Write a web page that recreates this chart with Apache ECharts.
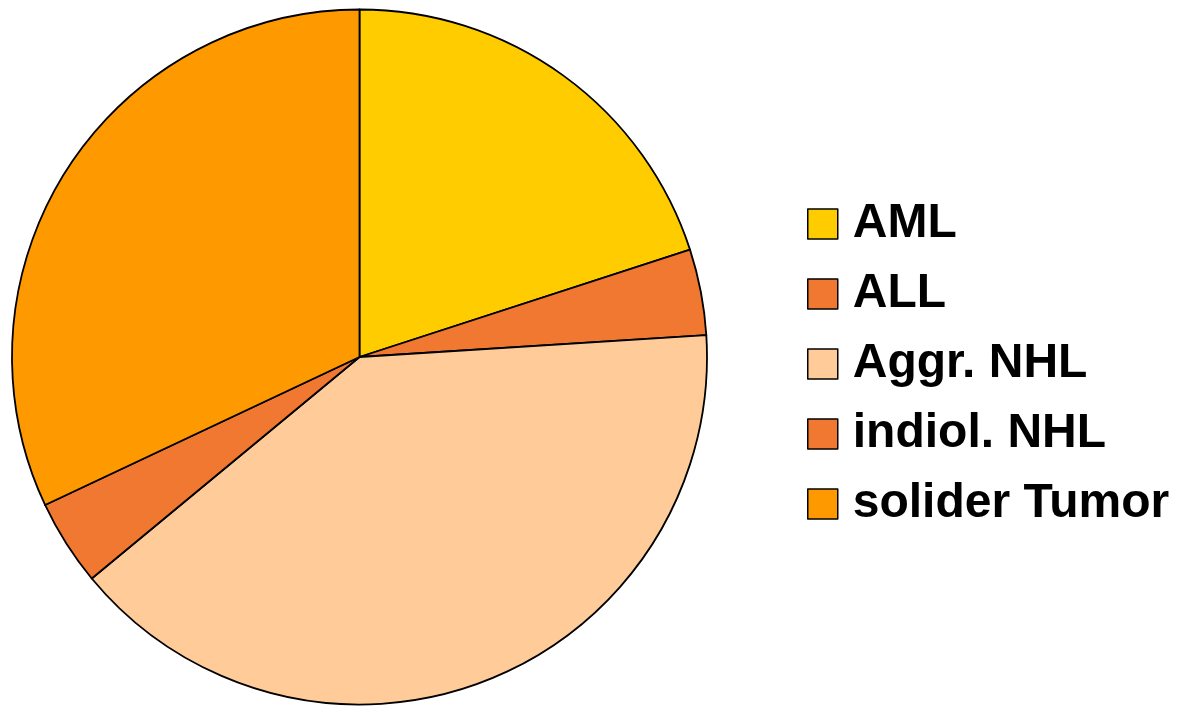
<!DOCTYPE html>
<html>
<head>
<meta charset="utf-8">
<script src="https://cdn.jsdelivr.net/npm/echarts@6/dist/echarts.min.js"></script>
<style>
  html, body { margin: 0; padding: 0; background: #fff; }
  #chart { width: 1179px; height: 706px; }
</style>
</head>
<body>
<div id="chart"></div>
<script>
// Diagnoses and their share of cases (%)
const categories = ['AML', 'ALL', 'Aggr. NHL', 'indiol. NHL', 'solider Tumor'];
const shares = [20, 4, 40, 4, 32];
const colors = ['#FFCC00', '#F07830', '#FFCC99', '#F07830', '#FF9900'];

const chart = echarts.init(document.getElementById('chart'), null, { renderer: 'canvas' });

chart.setOption({
  animation: false,
  backgroundColor: '#ffffff',
  legend: {
    orient: 'vertical',
    left: 802,
    top: 195,
    padding: 5,
    itemWidth: 30,
    itemHeight: 30,
    itemGap: 22,
    icon: 'rect',
    selectedMode: false,
    itemStyle: { borderColor: '#000', borderWidth: 1.5 },
    textStyle: {
      fontFamily: 'Liberation Sans, Arial, sans-serif',
      fontSize: 48,
      fontWeight: 'bold',
      color: '#000',
      lineHeight: 30,
      padding: [0, 0, 0, 10]
    },
    data: categories
  },
  series: [{
    type: 'pie',
    center: [359.5, 357],
    radius: [0, 347.5],
    startAngle: 90,
    clockwise: true,
    label: { show: false },
    labelLine: { show: false },
    emphasis: { disabled: true },
    itemStyle: { borderColor: '#000', borderWidth: 1.8 },
    data: categories.map((name, i) => ({
      name: name,
      value: shares[i],
      itemStyle: { color: colors[i] }
    }))
  }]
});
</script>
</body>
</html>
